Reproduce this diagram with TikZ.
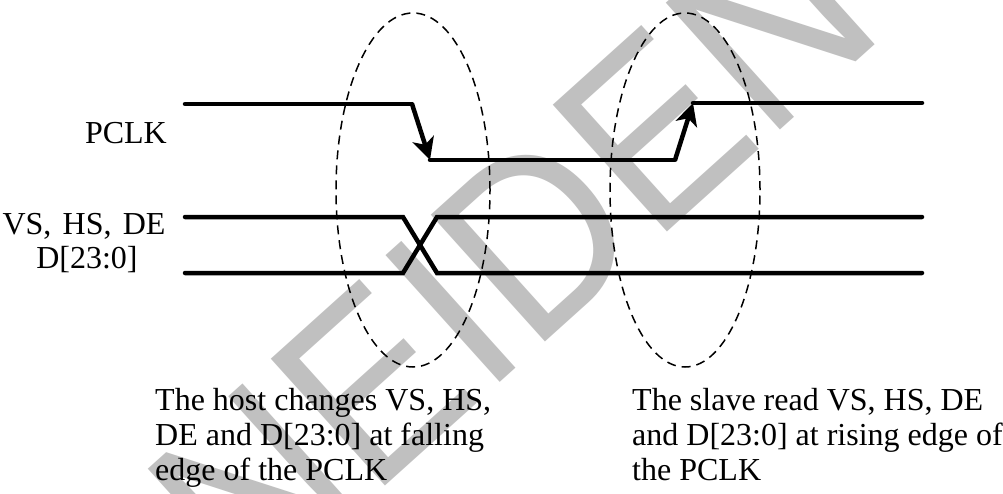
\documentclass[tikz,border=0pt]{standalone}
\usepackage{fontspec}
\setmainfont{Liberation Serif}
\newfontfamily\wmfont[FakeStretch=0.92]{Liberation Sans}
\usetikzlibrary{arrows.meta}
\definecolor{wmgray}{RGB}{192,192,192}
\begin{document}
\begin{tikzpicture}[x=1pt,y=-1pt,
  sig/.style={line width=4.5pt,line cap=round,line join=miter},
  edgearrow/.style={sig,line cap=butt,-{Stealth[length=22pt,width=22pt,inset=6pt]}},
  halo/.style={line width=1.5pt,dash pattern=on 9pt off 6pt},
  lbl/.style={inner sep=0pt,font=\fontsize{32}{35}\selectfont},
  wm/.style={inner sep=0pt,text=wmgray,font=\wmfont\fontsize{248}{248}\selectfont}]
\fill[white] (0,0) rectangle (1003,493);
\useasboundingbox (0,0) rectangle (1003,493);
% watermark
\node[wm,rotate=42,anchor=center] (wmark) at (512,257) {NEIDEN};
% PCLK
\coordinate (a0) at (185,104);
\coordinate (a1) at (412,104);
\coordinate (a2) at (430,160);
\coordinate (a3) at (675,160);
\coordinate (a4) at (693,103);
\coordinate (a5) at (922,103);
\draw[sig] (a0) -- (a1);
\draw[edgearrow] (a1) -- (a2);
\draw[sig] (a2) -- (a3);
\draw[edgearrow] (a3) -- (a4);
\draw[sig] (a4) -- (a5);
% data lines
\coordinate (b0) at (185,217);
\coordinate (b1) at (403,217);
\coordinate (b2) at (437,217);
\coordinate (b3) at (922,217);
\coordinate (c0) at (185,273);
\coordinate (c1) at (403,273);
\coordinate (c2) at (437,273);
\coordinate (c3) at (922,273);
\draw[sig] (b0) -- (b1) -- (c2) -- (c3);
\draw[sig] (c0) -- (c1) -- (b2) -- (b3);
% ellipses
\draw[halo] (413,190) ellipse [x radius=77pt,y radius=177pt];
\draw[halo] (685,190) ellipse [x radius=75pt,y radius=177pt];
% labels
\node[lbl,anchor=base east] (pclk) at (167,143) {PCLK};
\node[lbl,anchor=base] (vs) at (84,234) {VS,\hspace{0.35em}HS,\hspace{0.35em}DE};
\node[lbl,anchor=base] (dd) at (87,268) {D[23:0]};
% captions
\node[lbl,anchor=base west] (h1) at (155,410) {The host changes VS, HS,};
\node[lbl,anchor=base west] (h2) at (155,445) {DE and D[23:0] at falling};
\node[lbl,anchor=base west] (h3) at (155,480) {edge of the PCLK};
\node[lbl,anchor=base west] (s1) at (632,410) {The slave read VS, HS, DE};
\node[lbl,anchor=base west] (s2) at (632,445) {and D[23:0] at rising edge of};
\node[lbl,anchor=base west] (s3) at (632,480) {the PCLK};
\end{tikzpicture}
\end{document}
